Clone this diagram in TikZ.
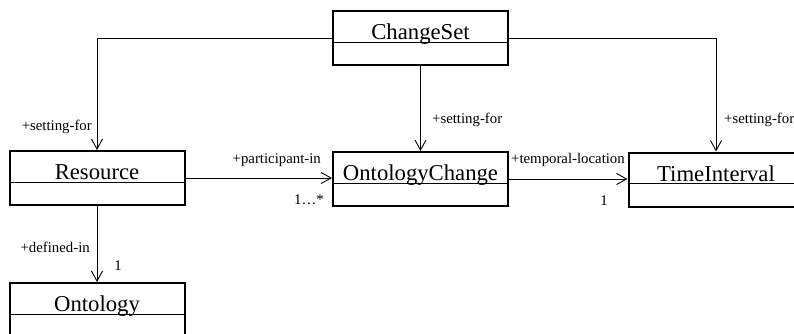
\documentclass[tikz,border=0pt]{standalone}
\usepackage{fontspec}
\setmainfont{Liberation Serif}
\usetikzlibrary{arrows.meta}
\begin{document}
\begin{tikzpicture}[x=1pt,y=-1pt,
    umlclass/.style={draw,line width=2pt,minimum width=175pt,minimum height=54pt,inner sep=0pt,
      text height=16pt,text depth=13pt,font=\fontsize{22.7}{24}\selectfont,
      path picture={\draw[line width=.9pt] ([yshift=-4pt]path picture bounding box.west)--([yshift=-4pt]path picture bounding box.east);}},
    assoc/.style={line width=.9pt,-{Straight Barb[length=10pt,width=11pt]}},
    role/.style={inner sep=0pt,font=\fontsize{14.8}{16}\selectfont}]
  \useasboundingbox (0,0) rectangle (794,334);
  % classes
  \node[umlclass] (cs) at (420.5,38) {ChangeSet};
  \node[umlclass] (res) at (97,178) {Resource};
  \node[umlclass] (oc) at (420.5,179) {OntologyChange};
  \node[umlclass] (ti) at (716,179.5) {TimeInterval};
  \node[umlclass] (ont) at (97,310) {Ontology};
  % associations
  \draw[assoc] (cs.west) -| (res.north);
  \draw[assoc] (cs.south) -- (oc.north);
  \draw[assoc] (cs.east) -| (ti.north);
  \draw[assoc] (res.east) -- (res.east-|oc.west);
  \draw[assoc] (oc.east) -- (oc.east-|ti.west);
  \draw[assoc] (res.south) -- (ont.north);
  % roles and multiplicities
  \node[role,anchor=base east] (r1) at (92,130) {+setting-for};
  \node[role,anchor=base west] (r2) at (432,123) {+setting-for};
  \node[role,anchor=base west] (r3) at (724,123) {+setting-for};
  \node[role,anchor=base east] (r4) at (321,163) {+participant-in};
  \node[role,anchor=base east] (m4) at (324,204) {1\ldots*};
  \node[role,anchor=base west] (r5) at (511,163) {+temporal-location};
  \node[role,anchor=base] (m5) at (604,205) {1};
  \node[role,anchor=base east] (r6) at (90,252) {+defined-in};
  \node[role,anchor=base] (m6) at (118,270) {1};
\end{tikzpicture}
\end{document}
